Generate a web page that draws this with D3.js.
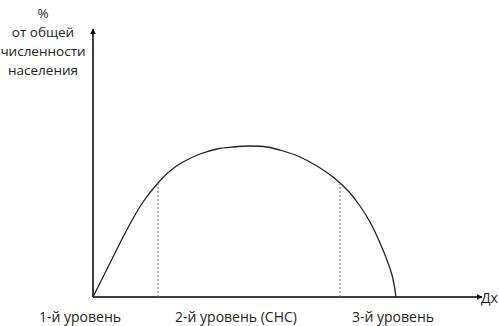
<!DOCTYPE html>
<html>
<head>
<meta charset="utf-8">
<script src="https://cdn.jsdelivr.net/npm/d3@7"></script>
<style>
  body { margin: 0; background: #fff; }
  svg text { font-family: "Open Sans", sans-serif; fill: #222; }
</style>
</head>
<body>
<div id="chart"></div>
<script>
// population share vs. income level (arbitrary units)
const incomeX = [0, 12, 24, 37, 50, 65, 77, 90, 107, 124, 140, 157, 174, 190, 207, 224, 240, 247, 257, 267, 277, 290, 299, 303];
const shareY  = [0, 24, 48, 73, 95, 114, 126, 135, 143, 148, 150, 151, 150, 146, 140, 131, 120, 114, 104, 91, 75, 47, 22, 0];
const boundaries = [65, 247];
const levelLabels = ["1-й уровень", "2-й уровень (СНС)", "3-й уровень"];
const levelCenters = [-13, 143, 300];
const yTitle = ["%", "от общей", "численности", "населения"];
const xTitle = "Дх";

const width = 499, height = 326;

let xScale = d3.scaleLinear().domain([0, 385]).range([93, 478]);
let yScale = d3.scaleLinear().domain([0, 264]).range([297, 33]);

let svg = d3.select("#chart").append("svg")
    .attr("width", width)
    .attr("height", height);

let defs = svg.append("defs");
defs.append("marker")
    .attr("id", "arrow")
    .attr("viewBox", "0 0 10 10")
    .attr("refX", 9)
    .attr("refY", 5)
    .attr("markerWidth", 6)
    .attr("markerHeight", 6)
    .attr("markerUnits", "userSpaceOnUse")
    .attr("orient", "auto")
    .append("path")
    .attr("d", "M0,0 L10,5 L0,10 z")
    .attr("fill", "#000");

/* axes */
svg.append("line")
    .attr("x1", xScale(0)).attr("y1", yScale(0))
    .attr("x2", xScale(385) + 4).attr("y2", yScale(0))
    .attr("stroke", "#000").attr("stroke-width", 1.5)
    .attr("marker-end", "url(#arrow)");

svg.append("line")
    .attr("x1", xScale(0)).attr("y1", yScale(0))
    .attr("x2", xScale(0)).attr("y2", yScale(264) - 4)
    .attr("stroke", "#000").attr("stroke-width", 1.5)
    .attr("marker-end", "url(#arrow)");

/* curve */
let pts = incomeX.map((x, i) => [x, shareY[i]]);
let line = d3.line()
    .x(d => xScale(d[0]))
    .y(d => yScale(d[1]))
    .curve(d3.curveCatmullRom.alpha(0.5));

svg.append("path")
    .attr("d", line(pts))
    .attr("fill", "none")
    .attr("stroke", "#222")
    .attr("stroke-width", 1.3);

/* dotted boundaries */
boundaries.forEach(b => {
  let i = incomeX.indexOf(b);
  svg.append("line")
      .attr("x1", xScale(b)).attr("x2", xScale(b))
      .attr("y1", yScale(0)).attr("y2", yScale(shareY[i]))
      .attr("stroke", "#666")
      .attr("stroke-width", 1)
      .attr("stroke-dasharray", "2,2");
});

/* labels */
svg.selectAll(".level")
    .data(levelLabels).enter()
    .append("text")
    .attr("class", "level")
    .attr("x", (d, i) => xScale(levelCenters[i]))
    .attr("y", 322)
    .attr("text-anchor", "middle")
    .attr("font-size", 14)
    .text(d => d);

svg.selectAll(".ytitle")
    .data(yTitle).enter()
    .append("text")
    .attr("class", "ytitle")
    .attr("x", 43)
    .attr("y", (d, i) => 18 + i * 19)
    .attr("text-anchor", "middle")
    .attr("font-size", 13.5)
    .text(d => d);

svg.append("text")
    .attr("x", 481)
    .attr("y", 303)
    .attr("font-size", 14)
    .text(xTitle);
</script>
</body>
</html>
